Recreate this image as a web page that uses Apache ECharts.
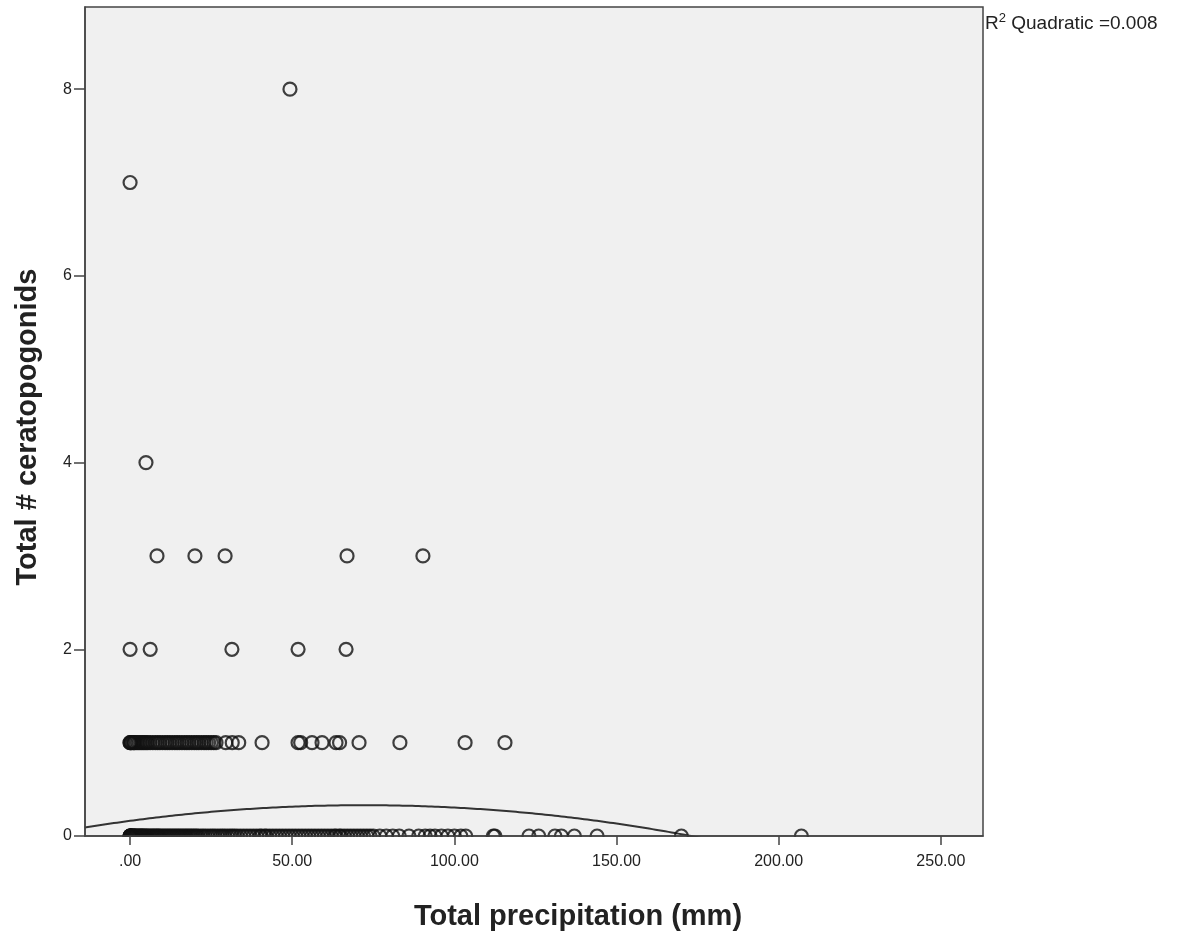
<!DOCTYPE html>
<html>
<head>
<meta charset="utf-8">
<script src="https://cdn.jsdelivr.net/npm/echarts@6/dist/echarts.min.js"></script>
<style>
  html, body { margin: 0; padding: 0; background: #fff; }
  #main { width: 1185px; height: 938px; }
</style>
</head>
<body>
<div id="main"></div>
<script>
// precipitation (mm) for each count of ceratopogonids
var precipAt0 = [0, 0, 0, 0, 0.1, 0.2, 0.3, 0.5, 0.6, 0.8, 1, 1.2, 1.3, 1.5, 1.7, 2, 2.2, 2.5, 2.8, 3,
  3.3, 3.5, 3.8, 4, 4.3, 4.6, 5, 5.2, 5.6, 6, 6.4, 6.8, 7.2, 7.5, 8, 8.3, 8.7, 9, 9.5, 10, 10.5, 11,
  11.5, 12, 12.5, 13, 13.5, 14, 14.5, 15, 15.5, 16, 16.5, 17, 17.5, 18, 18.5, 19, 19.5, 20, 20.5, 21,
  21.8, 22.5, 23.2, 24, 24.8, 25.5, 26.2, 27, 27.8, 28.5, 29.2, 30, 30.8, 31.5, 32.2, 33, 34, 35, 36,
  37, 38, 39, 40, 40.5, 41.5, 42, 43, 44, 45, 46, 47, 48, 49, 50, 51, 52, 53, 54, 55, 56, 57, 58, 59,
  60, 61, 62, 63, 63.5, 64.5, 65, 66, 67, 68, 69, 70, 71, 72, 73, 74, 75, 77, 79, 81, 83,
  86, 89, 91, 92.5, 94, 96, 98, 100, 102, 103.5, 112, 112.5, 123, 126, 131, 133, 137, 144, 170, 207];
var precipAt1 = [0, 0, 0.3, 0.5, 1, 1.2, 1.5, 2, 2.5, 3, 3.5, 4, 4.5, 5, 5.5, 6.2, 7, 7.8, 8.5, 9.2,
  10, 10.8, 11.5, 12.2, 13, 13.8, 14.5, 15.2, 16, 16.8, 17.5, 18.2, 19, 19.8, 20.5, 21.2, 22, 22.8,
  23.5, 24.2, 25, 25.8, 26.5, 29.5, 31.5, 33.5, 40.7, 51.8, 52.6, 56.1, 59.2, 63.5, 64.6, 70.6,
  83.2, 103.3, 115.6];
var precipAt2 = [0, 6.2, 31.4, 51.8, 66.6];
var precipAt3 = [8.3, 20, 29.3, 66.9, 90.3];
var precipAt4 = [4.9];
var precipAt7 = [0];
var precipAt8 = [49.3];

var xTicks = [0, 50, 100, 150, 200, 250];
var yTicks = [0, 2, 4, 6, 8];

// quadratic fit y = a*x^2 + b*x + c
var fitA = -3.235e-5, fitB = 0.004658, fitC = 0.1623;
var fitXStart = -14, fitXEnd = 180;

var points = [];
[[0, precipAt0], [1, precipAt1], [2, precipAt2], [3, precipAt3], [4, precipAt4], [7, precipAt7], [8, precipAt8]]
  .forEach(function (g) {
    g[1].forEach(function (x) { points.push([x, g[0]]); });
  });

var fitLine = [];
for (var x = fitXStart; x <= fitXEnd; x += 2) {
  fitLine.push([x, fitA * x * x + fitB * x + fitC]);
}

var chart = echarts.init(document.getElementById('main'));
var fam = 'Liberation Sans, Arial, sans-serif';

chart.setOption({
  animation: false,
  grid: {
    left: 85, top: 7, right: 202, bottom: 102,
    show: true, backgroundColor: '#f0f0f0', borderColor: '#444', borderWidth: 1.5
  },
  xAxis: {
    type: 'value', min: -13.9, max: 263, zlevel: 1,
    splitLine: { show: false },
    axisLine: { show: true, onZero: false, lineStyle: { color: '#444', width: 1.5 } },
    axisTick: { show: true, length: 9, customValues: xTicks, lineStyle: { color: '#444', width: 1.5 } },
    axisLabel: {
      customValues: xTicks, margin: 18, fontSize: 16, fontFamily: fam, color: '#222',
      formatter: function (v) { return v === 0 ? '.00' : v.toFixed(2); }
    }
  },
  yAxis: {
    type: 'value', min: 0, max: 8.88, zlevel: 1,
    splitLine: { show: false },
    axisLine: { show: true, onZero: false, lineStyle: { color: '#444', width: 1.5 } },
    axisTick: { show: true, length: 11, customValues: yTicks, lineStyle: { color: '#444', width: 1.5 } },
    axisLabel: { customValues: yTicks, margin: 13, fontSize: 16, fontFamily: fam, color: '#222' }
  },
  graphic: [
    { type: 'rect', z: 50, shape: { x: 86, y: 837, width: 897, height: 12 }, style: { fill: '#fff' } },
    {
      type: 'text', x: 578, y: 917,
      style: {
        text: 'Total precipitation (mm)', font: 'bold 29px ' + fam, fill: '#222',
        align: 'center', verticalAlign: 'middle'
      }
    },
    {
      type: 'text', x: 28, y: 427, rotation: Math.PI / 2,
      style: {
        text: 'Total # ceratopogonids', font: 'bold 29px ' + fam, fill: '#222',
        align: 'center', verticalAlign: 'middle'
      }
    },
    {
      type: 'text', left: 985, top: 12,
      style: {
        text: '{r|R}{s|2}{r| Quadratic =0.008}',
        rich: {
          r: { fontSize: 19, fontFamily: fam, fill: '#222', verticalAlign: 'bottom' },
          s: { fontSize: 13, fontFamily: fam, fill: '#222', verticalAlign: 'top', padding: [0, 0, 8, 0] }
        }
      }
    }
  ],
  series: [
    {
      type: 'line', data: fitLine, showSymbol: false, smooth: true, clip: true, z: 3,
      lineStyle: { color: '#333', width: 2 }
    },
    {
      type: 'scatter', data: points, symbol: 'circle', symbolSize: 13, z: 4,
      itemStyle: { color: 'rgba(0,0,0,0)', borderColor: '#111', borderWidth: 2.2 }
    }
  ]
});
</script>
</body>
</html>
